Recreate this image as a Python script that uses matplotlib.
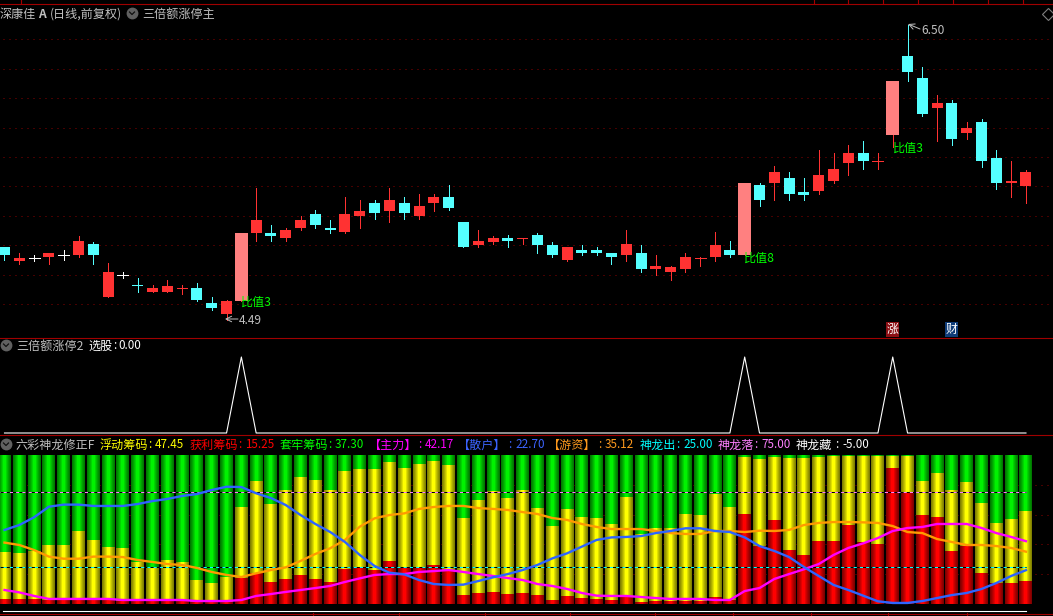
import matplotlib
matplotlib.use("Agg")
import matplotlib.pyplot as plt
import numpy as np

plt.rcParams['font.family'] = ['Noto Sans CJK SC', 'DejaVu Sans']

# ---------- candles ----------
opens = [4.99,4.89,4.91,4.92,4.93,4.93,5.01,4.65,4.80,4.73,4.68,4.68,4.70,4.71,4.61,4.53,4.62,5.08,5.08,5.05,5.12,5.21,5.12,5.09,5.20,5.29,5.23,5.29,5.20,5.29,5.33,5.16,5.00,5.02,5.05,5.04,5.07,5.00,4.90,4.97,4.97,4.95,4.93,4.95,4.84,4.82,4.84,4.91,4.92,4.97,4.93,5.41,5.42,5.46,5.36,5.37,5.44,5.56,5.63,5.57,5.75,6.29,6.14,5.93,5.97,5.76,5.84,5.59,5.42,5.40]
closes = [4.93,4.91,4.91,4.95,4.93,5.03,4.93,4.82,4.80,4.72,4.71,4.72,4.71,4.63,4.57,4.62,5.08,5.17,5.06,5.10,5.17,5.14,5.10,5.21,5.23,5.22,5.31,5.22,5.27,5.33,5.25,4.99,5.03,5.05,5.03,5.05,5.00,4.93,4.99,4.95,4.95,4.92,5.01,4.84,4.86,4.85,4.92,4.91,5.00,4.93,5.42,5.31,5.50,5.35,5.34,5.48,5.52,5.63,5.57,5.57,6.12,6.18,5.89,5.97,5.72,5.80,5.57,5.42,5.44,5.50]
highs = [4.99,4.95,4.93,4.95,4.97,5.06,5.02,4.88,4.82,4.78,4.73,4.76,4.73,4.74,4.65,4.63,5.08,5.39,5.14,5.12,5.20,5.24,5.17,5.33,5.31,5.31,5.39,5.33,5.35,5.35,5.41,5.16,5.10,5.06,5.07,5.05,5.08,5.02,4.99,5.00,4.99,4.95,5.10,5.00,4.93,4.86,4.95,4.92,5.09,5.03,5.42,5.42,5.54,5.50,5.46,5.65,5.63,5.68,5.71,5.63,6.12,6.50,6.21,6.02,5.99,5.84,5.86,5.65,5.57,5.51]
lows = [4.90,4.87,4.89,4.87,4.90,4.92,4.87,4.65,4.78,4.68,4.68,4.68,4.67,4.62,4.56,4.49,4.62,5.03,5.03,5.03,5.10,5.12,5.08,5.08,5.12,5.18,5.16,5.18,5.18,5.23,5.24,4.99,4.99,5.01,4.99,5.01,4.95,4.92,4.89,4.93,4.93,4.87,4.89,4.82,4.80,4.76,4.82,4.86,4.89,4.92,4.93,5.27,5.31,5.31,5.31,5.35,5.42,5.48,5.52,5.52,5.67,6.12,5.88,5.71,5.68,5.72,5.53,5.38,5.33,5.29]
limit_days = [16, 50, 60]
white_doji = [2, 4, 8]
price_grid = [6.4,6.2,6.0,5.8,5.6,5.4,5.2,5.0,4.8,4.6]

# ---------- signal pane ----------
signal = [0]*70
for d in limit_days:
    signal[d] = 1

# ---------- chip pane ----------
profit = [3.4,3.4,3.4,2.7,2.7,2.7,2.7,2.7,2.0,2.0,2.0,2.0,2.0,1.6,1.3,1.3,17.4,20.6,14.8,16.8,19.5,16.8,14.8,23.5,24.8,22.8,28.9,24.8,24.8,26.2,22.8,6.0,7.4,8.1,6.7,7.4,6.0,2.7,5.4,4.0,3.4,2.7,4.7,1.3,2.0,2.0,2.0,2.0,4.7,2.7,60.4,38.9,56.4,36.2,32.9,42.3,42.3,53.0,41.6,40.3,91.3,74.5,59.7,58.4,35.6,38.9,20.8,14.1,14.1,15.25]
profit_float = [34.9,34.2,35.6,39.6,39.6,49.0,43.0,38.3,37.6,28.2,24.8,29.5,28.2,16.1,14.1,18.1,65.1,82.5,67.1,76.5,85.2,83.2,76.5,89.3,90.6,90.6,95.3,91.3,94.0,96.0,93.3,57.7,69.8,75.8,71.1,76.5,64.4,52.3,63.8,58.4,57.7,53.7,71.8,47.0,51.0,51.0,60.4,59.7,73.8,65.1,98.7,97.3,98.7,98.0,98.0,98.7,99.3,99.3,99.3,99.3,99.3,99.3,82.5,87.9,76.5,81.8,67.8,54.4,57.0,62.7]
retail = [49.7,53.0,58.2,65.3,66.7,66.7,65.8,65.8,65.8,67.1,69.1,70.5,72.5,73.8,76.5,78.7,78.5,74.3,71.1,66.4,59.7,53.7,48.3,41.6,32.9,25.5,21.0,19.9,16.1,13.4,12.8,13.0,15.4,17.9,20.1,22.8,26.2,30.6,34.0,38.5,43.0,44.7,45.0,45.6,47.6,49.0,50.8,50.8,49.0,48.3,44.7,38.9,35.6,31.5,24.8,18.8,12.8,9.4,5.6,1.8,0.7,0.7,2.0,4.0,6.0,7.4,10.1,14.1,18.8,22.7]
hotmoney = [41.2,39.6,36.2,31.8,30.4,30.4,31.8,31.8,31.5,29.5,28.2,26.8,26.2,24.2,21.5,19.5,18.1,20.6,22.8,24.6,28.9,33.6,37.4,43.0,51.9,57.5,59.7,60.8,63.8,65.1,65.8,65.8,64.4,63.8,63.1,61.7,60.4,57.7,56.4,53.7,51.7,50.3,50.3,50.3,49.0,47.6,47.0,47.0,49.0,49.0,48.3,49.2,49.0,49.7,53.0,54.4,55.0,55.0,54.8,54.4,52.3,48.3,47.6,43.6,41.6,39.6,39.6,38.9,37.6,35.12]
mainforce = [9.4,7.8,5.4,3.4,3.4,3.4,3.4,3.4,2.7,2.7,2.7,2.7,2.7,2.0,2.0,2.0,2.7,5.4,6.7,8.1,9.4,10.7,12.1,14.8,17.2,19.5,20.1,20.1,21.5,22.1,22.8,21.5,20.1,18.8,17.4,16.1,13.4,12.1,10.1,7.4,5.6,5.4,5.4,4.7,4.0,3.4,3.4,3.4,2.7,2.7,8.7,10.7,16.8,20.1,23.3,26.8,32.9,37.6,40.7,44.3,49.0,51.0,51.7,53.7,53.7,53.7,51.0,47.6,45.0,42.17]
chip_grid = [80,60,40,20]
dragon_out, dragon_fall, dragon_hide = 25.0, 75.0, -5.0

pane3_labels = [
    (100, 155, '浮动筹码', '47.45', '#ffff00'),
    (190, 245, '获利筹码', '15.25', '#ff0000'),
    (280, 335, '套牢筹码', '37.30', '#00ff00'),
    (369, 425, '【主力】', '42.17', '#ff00ff'),
    (458, 515, '【散户】', '22.70', '#3c64ff'),
    (548, 605, '【游资】', '35.12', '#ff9a1e'),
    (640, 683, '神龙出', '25.00', '#00ffff'),
    (718, 761, '神龙落', '75.00', '#ff80ff'),
    (796, 842, '神龙藏', '-5.00', '#ffffff'),
]

W, H = 1053, 616
fig = plt.figure(figsize=(W/100, H/100), dpi=100, facecolor='black')

def make_axes(y0, y1):
    ax = fig.add_axes([0, 1-y1/H, 1, (y1-y0)/H], facecolor='black')
    ax.set_xlim(-4.5/14.804, (W-4.5)/14.804)
    ax.axis('off')
    return ax

x = np.arange(70)
PX = 1/14.804
grid_red = '#8c0000'

# ---------- main pane ----------
ax1 = make_axes(0, 337)
ax1.set_ylim(6.668-337/147, 6.668)
for g in price_grid:
    ax1.plot([-4.5/14.804+3*PX, 72], [g, g], color=grid_red, lw=0.72, ls=(0, (1, 5)), zorder=1)
for i in x:
    o, c, h, l = opens[i], closes[i], highs[i], lows[i]
    if i in white_doji:
        col = '#ffffff'
    elif c >= o:
        col = '#ff3232'
    else:
        col = '#54ffff'
    width = 11
    col2 = col
    if i in limit_days:
        col2 = '#ff8080'
        width = 13
    ax1.plot([i, i], [l, h], color=col, lw=0.68, solid_capstyle='butt', zorder=2, antialiased=False)
    if c == o:
        ax1.plot([i-5.5*PX, i+5.5*PX], [c, c], color=col, lw=0.68, solid_capstyle='butt', zorder=3, antialiased=False)
    else:
        ax1.bar(i, abs(c-o), bottom=min(c, o), width=width*PX, color=col2, linewidth=0, zorder=3)

# ---------- signal pane ----------
ax2 = make_axes(337, 435)
ax2.set_ylim(-2/76, 1+20/76)
ax2.plot(x, signal, color='white', lw=0.8, zorder=2)

# ---------- chip pane ----------
ax3 = make_axes(435, H)
ax3.set_ylim((604-H)/1.49, (604-435)/1.49)
for g in chip_grid:
    ax3.plot([-4.5/14.804+3*PX, 72], [g, g], color=grid_red, lw=0.72, ls=(0, (1, 5)), zorder=1)

def bevel(ax, heights, bottom, rgb, z):
    # nested bars give the lit, rounded look of the original columns
    widths = [13, 11, 9, 7, 5, 3]
    levels = [0.50, 0.58, 0.67, 0.77, 0.88, 1.0]
    for k, (w, lv) in enumerate(zip(widths, levels)):
        ax.bar(x, heights, bottom=bottom, width=w*PX,
               color=tuple(v*lv for v in rgb), linewidth=0, zorder=z+k*0.01,
               antialiased=False)

hundred = [100]*70
bevel(ax3, hundred, 0, (0, 0.95, 0), 2)
bevel(ax3, profit_float, 0, (1, 1, 0), 3)
bevel(ax3, profit, 0, (1, 0, 0), 4)

for lvl, colr in ((dragon_fall, '#ff80ff'), (dragon_out, '#00ffff')):
    ax3.plot([-0.3, 69], [lvl, lvl], color=colr, lw=0.75, zorder=5)
    ax3.plot([-0.3, 69], [lvl, lvl], color='black', lw=0.75, ls=(0, (3, 3)), zorder=6)
ax3.plot([-4.5/14.804+3*PX, 69], [dragon_hide, dragon_hide], color='white', lw=0.8, zorder=5)

ax3.plot(x, hotmoney, color='#ff9a00', lw=1.7, zorder=7)
ax3.plot(x, mainforce, color='#ff00ff', lw=1.7, zorder=8)
ax3.plot(x, retail, color='#2e64ff', lw=1.7, zorder=9)

# ---------- overlay: frame, captions ----------
ov = fig.add_axes([0, 0, 1, 1], facecolor='none')
ov.set_xlim(0, W)
ov.set_ylim(H, 0)
ov.axis('off')
frame = '#a00000'
for y in (3.5, 337.5, 434.5, 613.5):
    ov.plot([0, W], [y, y], color=frame, lw=0.8, zorder=1)
for xt in (21, 814, 848, 883, 918, 953, 988, 1023):
    ov.plot([xt, xt], [0, 3], color=frame, lw=0.8)
for xt in (313, 399, 485, 570, 655, 733, 811, 888, 967):
    ov.plot([xt, xt], [613, 616], color=frame, lw=0.8)

def T(px, py, s, c, fs=8.7, dy=5, **kw):
    ov.text(px, py+dy, s, color=c, fontsize=fs, va='baseline', ha='left', **kw)

def knob(px, py):
    ov.plot([px], [py], marker='o', ms=7.5, mfc='#606060', mec='#606060', zorder=5)
    ov.plot([px-2.5, px, px+2.5], [py-1, py+1.5, py-1], color='#101010', lw=0.9, zorder=6)

grey = '#c0c0c0'
T(0, 13, '深康佳', grey)
T(38, 13, 'A', grey, fontweight='bold')
T(50, 13, '(日线,前复权)', grey)
knob(132, 13)
T(142, 13, '三倍额涨停主', grey)
knob(6, 345)
T(16, 345, '三倍额涨停2', grey)
T(88, 345, '选股', '#ffffff')
T(113, 345, ':', '#ffffff', fs=8.4, dy=4)
T(118, 345, '0.00', '#ffffff', fs=8.4, dy=4)
knob(6, 444)
T(16, 444, '六彩神龙修正F', grey)
for nx, vx, name, val, c in pane3_labels:
    T(nx, 444, name, c)
    T(vx-7, 444, ':', c, fs=8.4, dy=4)
    T(vx, 444, val, c, fs=8.4, dy=4)

ov.plot([1048], [14], marker='D', ms=6, mfc='none', mec='#808080', mew=0.8)

green = '#00ff00'
T(241, 301, '比值3', green)
T(744, 257, '比值8', green)
T(893, 147, '比值3', green)
T(239, 320, '4.49', grey, fs=8.6, dy=4)
T(921, 30, '6.50', grey, fs=8.6, dy=4)
ov.annotate('', xy=(225, 319), xytext=(238, 319), arrowprops=dict(arrowstyle='->', color=grey, lw=0.7, shrinkA=0, shrinkB=0))
ov.annotate('', xy=(908, 24), xytext=(920, 29), arrowprops=dict(arrowstyle='->', color=grey, lw=0.7, shrinkA=0, shrinkB=0))

for px, s, bg in ((886, '涨', '#8c0f14'), (945, '财', '#0f3c78')):
    ov.text(px+6.5, 329.5, s, color='white', fontsize=8.6, ha='center', va='center',
            bbox=dict(boxstyle='square,pad=0.08', fc=bg, ec='none'))

fig.savefig('out.png', dpi=100, facecolor='black')
